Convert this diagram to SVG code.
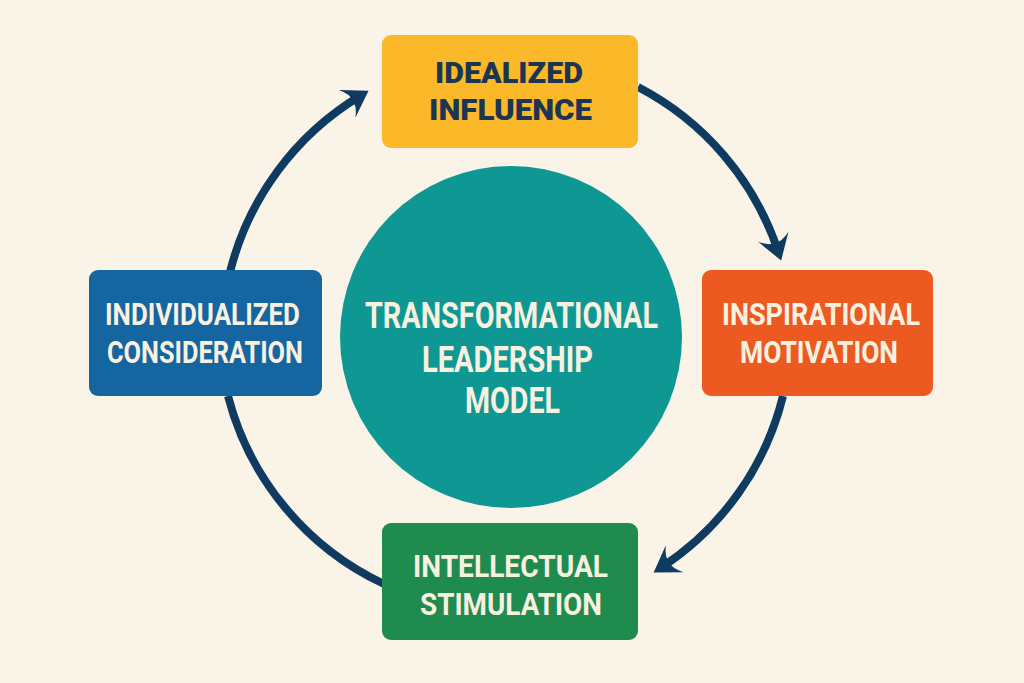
<svg xmlns="http://www.w3.org/2000/svg" width="1024" height="683" viewBox="0 0 1024 683">
  <style>
    .lbl { font-family: Roboto, "Liberation Sans", sans-serif; font-weight: 700; }
    .light { fill: #F8F1E0; font-size: 32px; }
    .dark { fill: #1C3553; font-size: 30px; font-weight: 900; }
    .center { fill: #F8F1E0; font-size: 36px; }
    .conn { fill: none; stroke: #0E3B5F; stroke-width: 8; stroke-linecap: butt; }
  </style>
  <defs>
    <marker id="arrow" markerUnits="userSpaceOnUse" viewBox="-20 -18 36 36" markerWidth="36" markerHeight="36" refX="0" refY="0" orient="auto">
      <path d="M10 0 L-15 -16 Q-7 -6 -9 0 Q-7 6 -15 16 Z" fill="#0E3B5F"/>
    </marker>
  </defs>
  <rect width="1024" height="683" fill="#FAF3E7"/>

  <g id="connectors">
    <path class="conn" d="M230 272 A287 287 0 0 1 360 96" marker-end="url(#arrow)"/>
    <path class="conn" d="M638 87 A287 287 0 0 1 778 251" marker-end="url(#arrow)"/>
    <path class="conn" d="M783 396 A287 287 0 0 1 662 567" marker-end="url(#arrow)"/>
    <path class="conn" d="M228 396 A287 287 0 0 0 384 584"/>
  </g>

  <g id="center">
    <circle cx="511" cy="337" r="171" fill="#0F9893"/>
    <text class="lbl center" x="365" y="328" textLength="293" lengthAdjust="spacingAndGlyphs">TRANSFORMATIONAL</text>
    <text class="lbl center" x="422" y="372" textLength="171" lengthAdjust="spacingAndGlyphs">LEADERSHIP</text>
    <text class="lbl center" x="465" y="413" textLength="95" lengthAdjust="spacingAndGlyphs">MODEL</text>
  </g>

  <g id="idealized-influence">
    <rect x="382" y="35" width="256" height="113" rx="9" fill="#FBB829"/>
    <text class="lbl dark" x="435" y="83" textLength="148" lengthAdjust="spacingAndGlyphs">IDEALIZED</text>
    <text class="lbl dark" x="429" y="120" textLength="163" lengthAdjust="spacingAndGlyphs">INFLUENCE</text>
  </g>

  <g id="inspirational-motivation">
    <rect x="702" y="270" width="231" height="126" rx="9" fill="#EC5A22"/>
    <text class="lbl light" x="722" y="325" textLength="198" lengthAdjust="spacingAndGlyphs">INSPIRATIONAL</text>
    <text class="lbl light" x="740" y="363" textLength="158" lengthAdjust="spacingAndGlyphs">MOTIVATION</text>
  </g>

  <g id="intellectual-stimulation">
    <rect x="382" y="523" width="256" height="117" rx="9" fill="#1F8B4E"/>
    <text class="lbl light" x="413" y="577" textLength="195" lengthAdjust="spacingAndGlyphs">INTELLECTUAL</text>
    <text class="lbl light" x="420" y="615" textLength="182" lengthAdjust="spacingAndGlyphs">STIMULATION</text>
  </g>

  <g id="individualized-consideration">
    <rect x="89" y="270" width="233" height="126" rx="9" fill="#1565A0"/>
    <text class="lbl light" x="105" y="325" textLength="195" lengthAdjust="spacingAndGlyphs">INDIVIDUALIZED</text>
    <text class="lbl light" x="107" y="363" textLength="196" lengthAdjust="spacingAndGlyphs">CONSIDERATION</text>
  </g>
</svg>
